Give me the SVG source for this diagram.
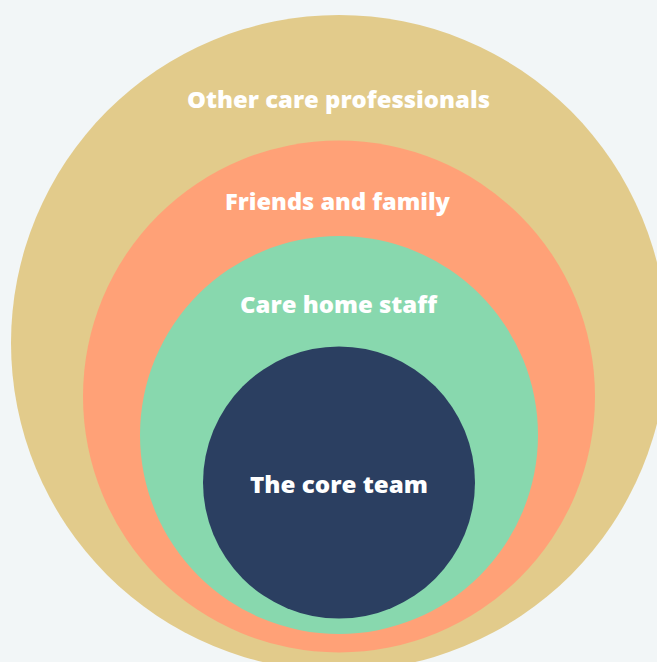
<svg xmlns="http://www.w3.org/2000/svg" width="657" height="662" viewBox="0 0 657 662">
<style>
.lbl{font-family:"Open Sans","Lato","Liberation Sans",sans-serif;font-weight:800;font-size:22px;fill:#ffffff;text-anchor:middle}
</style>
<rect width="657" height="662" fill="#F2F6F7"/>
<g id="other-care-professionals">
<circle cx="339" cy="343" r="328" fill="#E2CB8B"/>
<text class="lbl" x="338.5" y="108" textLength="303" lengthAdjust="spacingAndGlyphs">Other care professionals</text>
</g>
<g id="friends-and-family">
<circle cx="339" cy="396.5" r="256" fill="#FFA177"/>
<text class="lbl" x="337.5" y="210" textLength="225" lengthAdjust="spacingAndGlyphs">Friends and family</text>
</g>
<g id="care-home-staff">
<circle cx="339" cy="435" r="199" fill="#88D8AE"/>
<text class="lbl" x="338.5" y="313" textLength="197" lengthAdjust="spacingAndGlyphs">Care home staff</text>
</g>
<g id="core-team">
<circle cx="339" cy="482.5" r="136" fill="#2B3F61"/>
<text class="lbl" x="339" y="493" textLength="178" lengthAdjust="spacingAndGlyphs">The core team</text>
</g>
<g id="connectors"/>
</svg>
